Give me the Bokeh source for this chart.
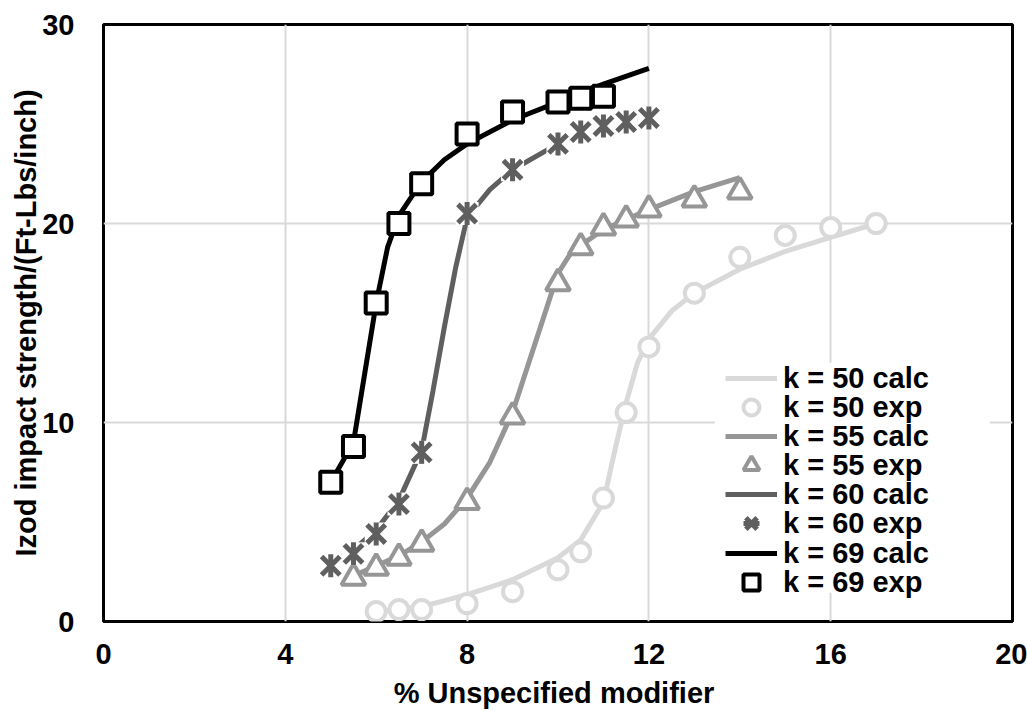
import math
from bokeh.plotting import figure
from bokeh.models import Legend, LegendItem, FixedTicker, Range1d, BoxAnnotation
from bokeh.embed import file_html
from bokeh.resources import INLINE

# ---- data ----
x_ticks = [0, 4, 8, 12, 16, 20]
y_ticks = [0, 10, 20, 30]

x50_calc = [6, 6.5, 7, 8, 9, 10, 10.5, 11, 11.25, 11.5, 11.75, 12, 12.5, 13, 14, 15, 16, 17]
y50_calc = [0.5, 0.6, 0.75, 1.35, 2.1, 3.2, 4.1, 6.0, 8.6, 11.0, 13.0, 14.2, 15.6, 16.5, 17.7, 18.6, 19.3, 20.0]
x50_exp = [6, 6.5, 7, 8, 9, 10, 10.5, 11, 11.5, 12, 13, 14, 15, 16, 17]
y50_exp = [0.5, 0.6, 0.6, 0.9, 1.5, 2.6, 3.5, 6.2, 10.5, 13.8, 16.5, 18.3, 19.4, 19.8, 20.0]

x55_calc = [5.5, 6, 6.5, 7, 7.5, 8, 8.5, 9, 9.5, 10, 10.25, 10.5, 11, 11.5, 12, 13, 14]
y55_calc = [2.3, 2.8, 3.3, 4.0, 4.9, 6.2, 8.0, 10.5, 14.0, 17.5, 18.4, 18.9, 19.7, 20.2, 20.7, 21.6, 22.3]
x55_exp = [5.5, 6, 6.5, 7, 8, 9, 10, 10.5, 11, 11.5, 12, 13, 14]
y55_exp = [2.2, 2.7, 3.2, 3.9, 6.0, 10.3, 17.0, 18.8, 19.8, 20.2, 20.7, 21.2, 21.6]

x60_calc = [5, 5.5, 6, 6.5, 7, 7.25, 7.5, 7.75, 8, 8.5, 9, 10, 11, 12]
y60_calc = [2.9, 3.6, 4.6, 6.1, 8.6, 11.6, 14.8, 17.8, 20.3, 21.7, 22.7, 24.0, 24.8, 25.3]
x60_exp = [5, 5.5, 6, 6.5, 7, 8, 9, 10, 10.5, 11, 11.5, 12]
y60_exp = [2.8, 3.4, 4.4, 5.9, 8.5, 20.5, 22.7, 24.0, 24.6, 24.9, 25.1, 25.3]

x69_calc = [5, 5.5, 5.75, 6, 6.25, 6.5, 7, 7.5, 8, 9, 10, 11, 12]
y69_calc = [7.0, 9.0, 12.5, 16.0, 18.8, 20.4, 22.1, 23.2, 24.0, 25.2, 26.1, 27.0, 27.8]
x69_exp = [5, 5.5, 6, 6.5, 7, 8, 9, 10, 10.5, 11]
y69_exp = [7.0, 8.8, 16.0, 20.0, 22.0, 24.5, 25.6, 26.1, 26.3, 26.4]

labels = ["k = 50 calc", "k = 50 exp", "k = 55 calc", "k = 55 exp",
          "k = 60 calc", "k = 60 exp", "k = 69 calc", "k = 69 exp"]

C50, C55, C60, C69 = "#d9d9d9", "#969696", "#5f5f5f", "#000000"
FONT = "Liberation Sans"
FS = "29px"

# ---- layout (screen pixels) ----
W, H = 1027, 711
B_LEFT, B_RIGHT, B_TOP, B_BOTTOM = 103, 15, 24, 90
FRAME_BOTTOM = H - B_BOTTOM
LEG_GLYPH_LEFT = 725          # x where legend glyphs start
LEG_FIRST_ROW = 378           # y centre of first legend row
LEG_PITCH = 29.1              # row pitch
LEG_ROW_H = 40                # glyph box height of one row

p = figure(width=W, height=H, x_range=Range1d(0, 20), y_range=Range1d(0, 30),
           output_backend="svg", toolbar_location=None,
           min_border_left=B_LEFT, min_border_right=B_RIGHT,
           min_border_top=B_TOP, min_border_bottom=B_BOTTOM)
p.background_fill_color = "white"
p.border_fill_color = "white"
p.outline_line_color = "black"
p.outline_line_width = 3

for ax, ticks in ((p.xaxis, x_ticks), (p.yaxis, y_ticks)):
    ax.ticker = FixedTicker(ticks=ticks)
    ax.axis_line_color = None
    ax.major_tick_line_color = None
    ax.minor_tick_line_color = None
    ax.major_label_text_font = FONT
    ax.major_label_text_font_size = FS
    ax.major_label_text_font_style = "bold"
    ax.major_label_text_color = "black"
    ax.axis_label_text_font = FONT
    ax.axis_label_text_font_size = FS
    ax.axis_label_text_font_style = "bold"
    ax.axis_label_text_color = "black"

p.xaxis.axis_label = "%  Unspecified modifier"
p.yaxis.axis_label = "Izod impact strength/(Ft-Lbs/inch)"
p.xaxis.major_label_standoff = 16
p.xaxis.axis_label_standoff = 10
p.yaxis.major_label_standoff = 23
p.yaxis.axis_label_standoff = -3

p.xgrid.ticker = FixedTicker(ticks=x_ticks)
p.ygrid.ticker = FixedTicker(ticks=y_ticks)
p.grid.grid_line_color = "#d9d9d9"
p.grid.grid_line_width = 2

# series (drawn in Excel series order)
r50c = p.line(x50_calc, y50_calc, line_color=C50, line_width=5)
r50e = p.scatter(x50_exp, y50_exp, marker="circle", size=19, fill_color="white",
                 line_color=C50, line_width=4)
r55c = p.line(x55_calc, y55_calc, line_color=C55, line_width=5)
r55e = p.scatter(x55_exp, y55_exp, marker="triangle", size=24, fill_color="white",
                 line_color=C55, line_width=4)
r60c = p.line(x60_calc, y60_calc, line_color=C60, line_width=5)
r60bg = p.scatter(x60_exp, y60_exp, marker="square", size=23, fill_color="white",
                  line_color=None)
r60x = p.scatter(x60_exp, y60_exp, marker="x", size=26, line_color=C60, line_width=5)
r60d = p.scatter(x60_exp, y60_exp, marker="dash", angle=math.pi / 2, size=23,
                 line_color=C60, line_width=5)
r69c = p.line(x69_calc, y69_calc, line_color=C69, line_width=5)
r69e = p.scatter(x69_exp, y69_exp, marker="square", size=21, fill_color="white",
                 line_color=C69, line_width=4)

# white legend area (covers the grid behind the legend)
p.add_layout(BoxAnnotation(left=13.45, right=19.5, bottom=1.45, top=13.0,
                           fill_color="white", fill_alpha=1.0, line_color=None,
                           level="annotation"))

item_renderers = [[r50c], [r50e], [r55c], [r55e], [r60c], [r60x, r60d], [r69c], [r69e]]
x0 = LEG_GLYPH_LEFT - B_LEFT
for i, (lab, rends) in enumerate(zip(labels, item_renderers)):
    yc = LEG_FIRST_ROW + LEG_PITCH * i
    loc_y = int(round(FRAME_BOTTOM - (yc + LEG_ROW_H / 2)))
    leg = Legend(items=[LegendItem(label=lab, renderers=rends)],
                 location=(x0, loc_y), margin=0, padding=0, spacing=0,
                 glyph_width=52, glyph_height=LEG_ROW_H, label_height=29,
                 label_standoff=6,
                 label_text_font=FONT, label_text_font_size=FS,
                 label_text_font_style="bold", label_text_color="black",
                 background_fill_alpha=0.0, border_line_color=None)
    p.add_layout(leg)

open("out.html", "w").write(file_html(p, INLINE))
